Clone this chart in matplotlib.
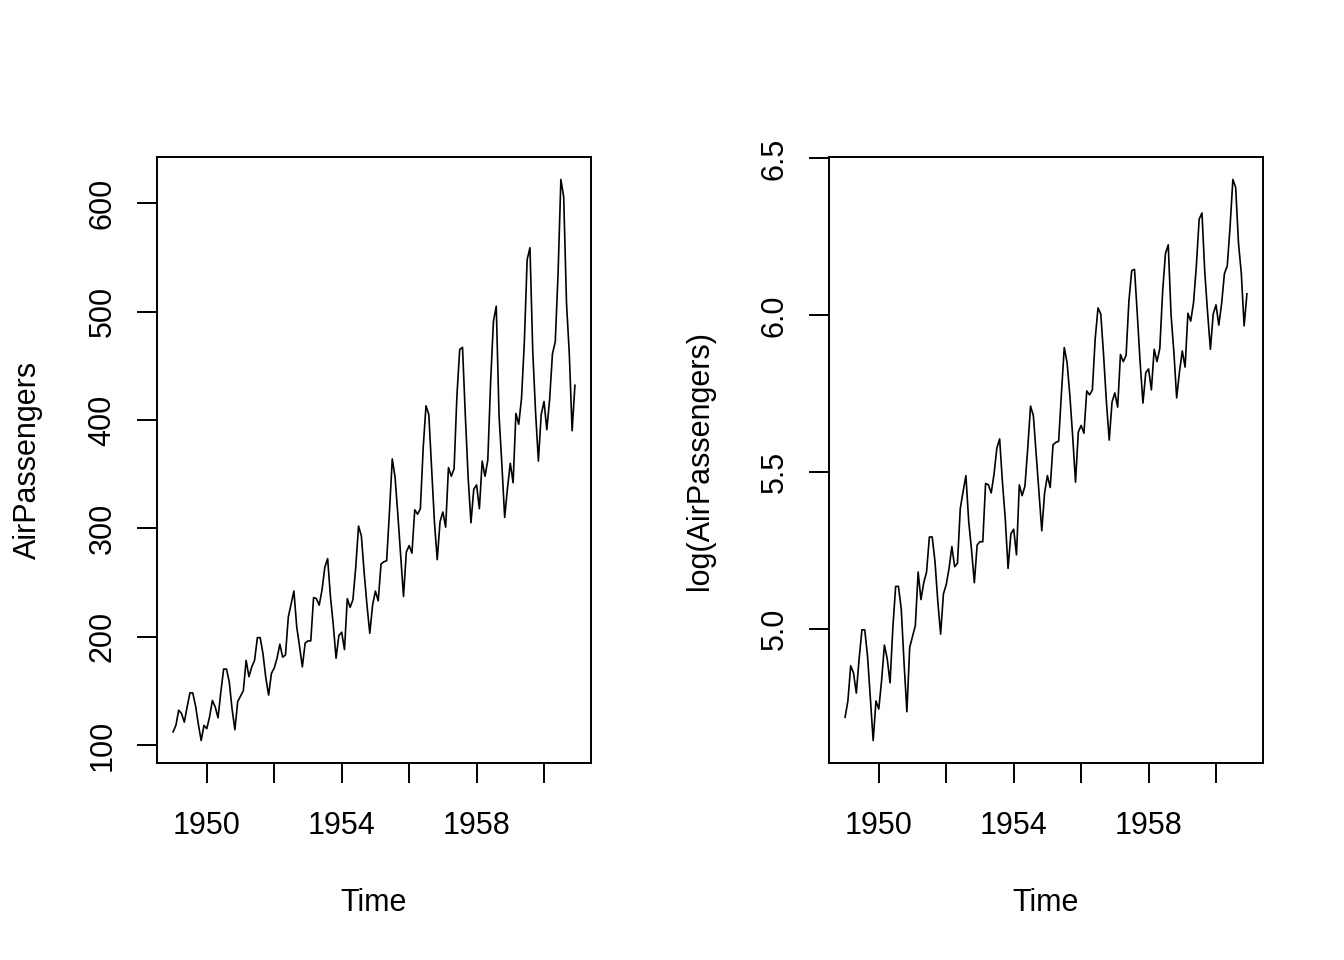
import numpy as np
import matplotlib
matplotlib.use("Agg")
import matplotlib.pyplot as plt

# monthly airline passengers (thousands), 1949-1960
passengers = [
    112, 118, 132, 129, 121, 135, 148, 148, 136, 119, 104, 118,
    115, 126, 141, 135, 125, 149, 170, 170, 158, 133, 114, 140,
    145, 150, 178, 163, 172, 178, 199, 199, 184, 162, 146, 166,
    171, 180, 193, 181, 183, 218, 230, 242, 209, 191, 172, 194,
    196, 196, 236, 235, 229, 243, 264, 272, 237, 211, 180, 201,
    204, 188, 235, 227, 234, 264, 302, 293, 259, 229, 203, 229,
    242, 233, 267, 269, 270, 315, 364, 347, 312, 274, 237, 278,
    284, 277, 317, 313, 318, 374, 413, 405, 355, 306, 271, 306,
    315, 301, 356, 348, 355, 422, 465, 467, 404, 347, 305, 336,
    340, 318, 362, 348, 363, 435, 491, 505, 404, 359, 310, 337,
    360, 342, 406, 396, 420, 472, 548, 559, 463, 407, 362, 405,
    417, 391, 419, 461, 472, 535, 622, 606, 508, 461, 390, 432,
]
start_year = 1949
x_ticks = [1950, 1952, 1954, 1956, 1958, 1960]
x_ticklabels = ["1950", "", "1954", "", "1958", ""]
y_ticks_raw = [100, 200, 300, 400, 500, 600]
y_ticks_log = [5.0, 5.5, 6.0, 6.5]

plt.rcParams['font.family'] = ['Liberation Sans', 'DejaVu Sans']

t = start_year + np.arange(len(passengers)) / 12.0
y = np.array(passengers, dtype=float)
ylog = np.log(y)


def r_range(v):
    lo, hi = np.min(v), np.max(v)
    d = 0.04 * (hi - lo)
    return lo - d, hi + d


fig = plt.figure(figsize=(13.44, 9.6), dpi=100)
W, H = 1344, 960


def make_axes(x0, x1, y0, y1):
    return fig.add_axes([x0 / W, (H - y1) / H, (x1 - x0) / W, (y1 - y0) / H])


panels = [
    (make_axes(157, 591, 157, 763), y, y_ticks_raw, [str(v) for v in y_ticks_raw], "AirPassengers"),
    (make_axes(829, 1263, 157, 763), ylog, y_ticks_log, ["%.1f" % v for v in y_ticks_log], "log(AirPassengers)"),
]

for ax, vals, yt, ytl, ylab in panels:
    ax.plot(t, vals, color="black", lw=1.2)
    ax.set_xlim(*r_range(t))
    ax.set_ylim(*r_range(vals))
    ax.set_xticks(x_ticks)
    ax.set_xticklabels(x_ticklabels)
    ax.set_yticks(yt)
    ax.set_yticklabels(ytl, rotation=90, va="center")
    for s in ax.spines.values():
        s.set_linewidth(1.4)
    ax.tick_params(axis="x", direction="out", length=14.4, width=1.4, labelsize=22, pad=20)
    ax.tick_params(axis="y", direction="out", length=14.4, width=1.4, labelsize=22, pad=14)
    ax.set_xlabel("Time", fontsize=22, va="center")
    ax.xaxis.set_label_coords(0.5, -0.231)
    ax.set_ylabel(ylab, fontsize=22, va="center")
    ax.yaxis.set_label_coords(-0.298, 0.5)

fig.savefig("out.png", dpi=100)
